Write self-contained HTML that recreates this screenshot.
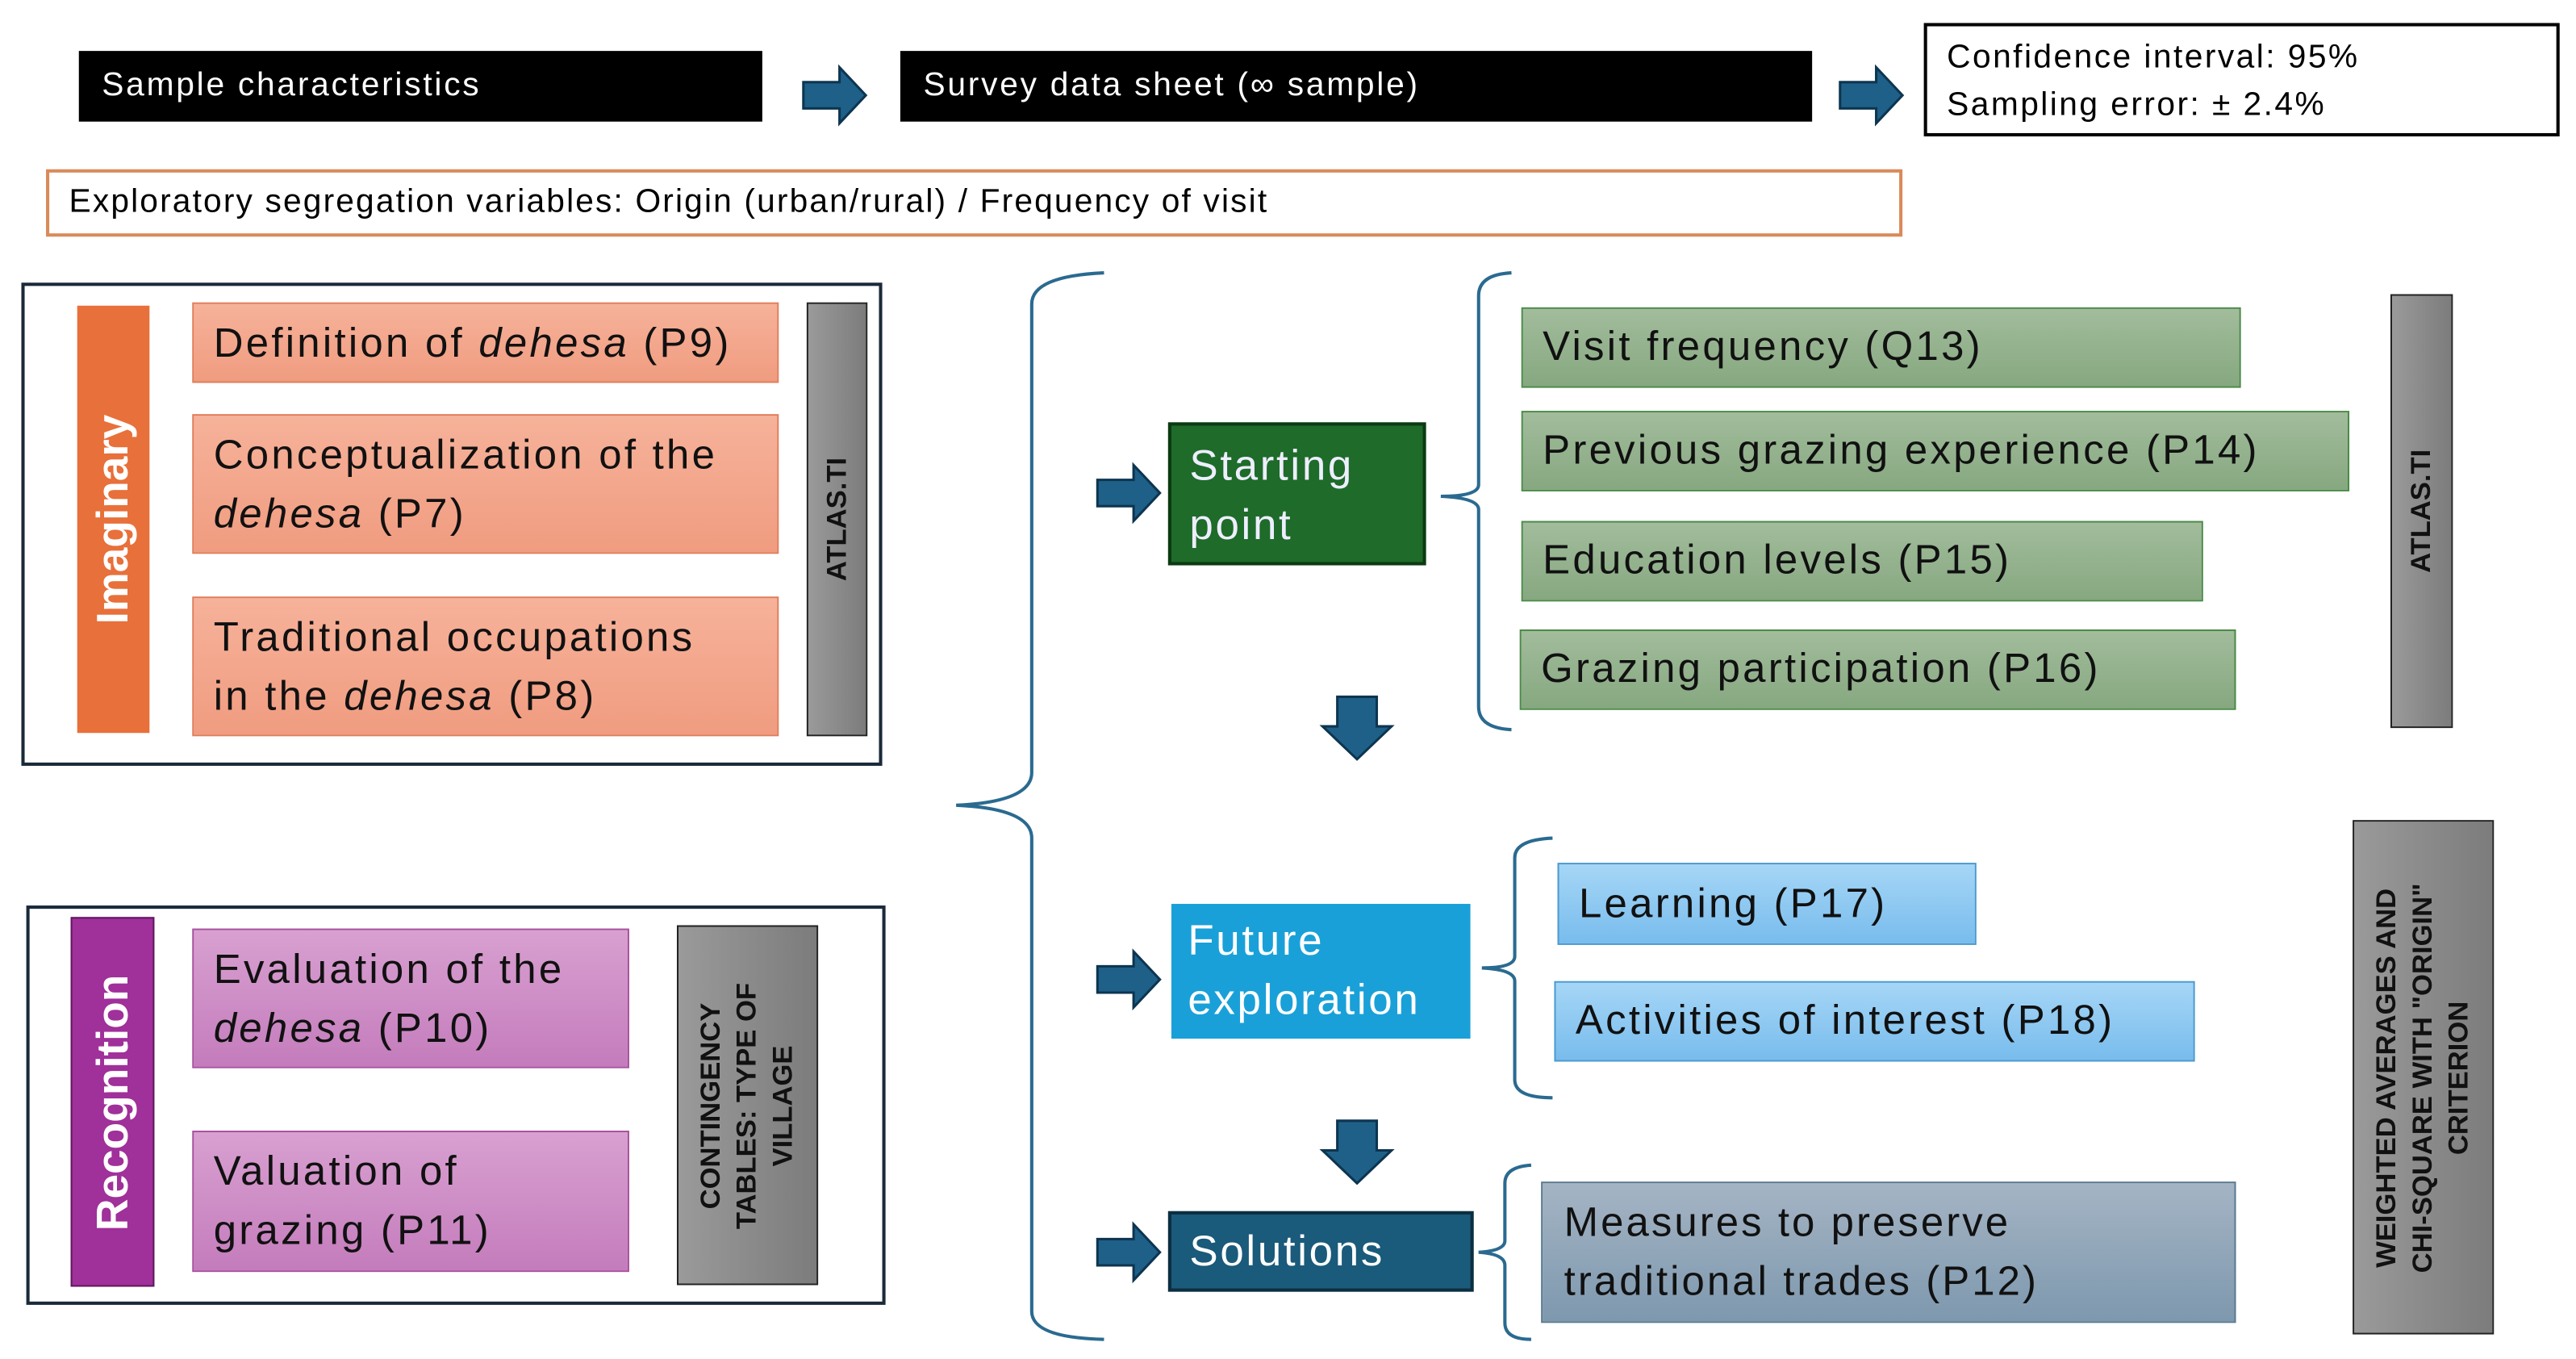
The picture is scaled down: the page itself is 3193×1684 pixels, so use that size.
<!DOCTYPE html>
<html><head><meta charset="utf-8"><style>
html,body{margin:0;padding:0;background:#fff;}
body{width:3193px;height:1684px;overflow:hidden;position:relative;}
#s{position:absolute;left:0;top:0;width:1568px;height:827px;transform:scale(2.0364);transform-origin:0 0;font-family:"Liberation Sans",sans-serif;}
.b{position:absolute;box-sizing:border-box;}
.blk{background:#000;color:#fff;font-size:20px;line-height:43px;padding-left:14px;letter-spacing:1.35px;}
.pk{background:linear-gradient(#f6b29a,#f09c80);border:1.5px solid #e07c58;font-size:25px;color:#111;padding-left:12px;display:flex;align-items:center;line-height:36px;letter-spacing:1.6px;}
.pu{background:linear-gradient(#d8a0d0,#c47cbc);border:1.5px solid #a8509e;font-size:25px;color:#111;padding-left:12px;display:flex;align-items:center;line-height:36px;letter-spacing:1.6px;}
.gr{background:linear-gradient(#a2bc9c,#86a880);border:1.5px solid #4a8a48;font-size:25px;color:#111;padding-left:12px;display:flex;align-items:center;letter-spacing:1.6px;}
.bl{background:linear-gradient(#a6d6f6,#78bced);border:1.5px solid #4a9ad0;font-size:25px;color:#111;padding-left:12px;display:flex;align-items:center;letter-spacing:1.6px;}
.gy{background:linear-gradient(90deg,#9a9a9a,#7c7c7c);border:1.5px solid #222;}
.rot{position:absolute;left:50%;top:50%;transform:translate(-50%,-50%) rotate(-90deg);white-space:nowrap;font-weight:bold;text-align:center;}
</style></head><body><div id="s">
<div class="b blk" style="left:48px;top:31px;width:416px;height:43px;">Sample characteristics</div>
<div class="b blk" style="left:548px;top:31px;width:555px;height:43px;">Survey data sheet (∞ sample)</div>
<div class="b" style="left:1171px;top:14px;width:387px;height:69px;border:2px solid #000;font-size:20px;line-height:29px;padding:5px 0 0 12px;letter-spacing:1.2px;">Confidence interval: 95%<br>Sampling error: ± 2.4%</div>
<div class="b" style="left:28px;top:103px;width:1130px;height:41px;border:2px solid #d98a5a;font-size:20px;line-height:37px;padding-left:12px;letter-spacing:1.05px;">Exploratory segregation variables: Origin (urban/rural) / Frequency of visit</div>

<div class="b" style="left:13px;top:172px;width:524px;height:294px;border:2px solid #1a2a3a;"></div>
<div class="b" style="left:47px;top:186px;width:44px;height:260px;background:#e8703a;"><div class="rot" style="color:#fff;font-size:27px;">Imaginary</div></div>
<div class="b pk" style="left:117px;top:184px;width:357px;height:49px;">Definition of&nbsp;<i>dehesa</i>&nbsp;(P9)</div>
<div class="b pk" style="left:117px;top:252px;width:357px;height:85px;"><div>Conceptualization of the<br><i>dehesa</i> (P7)</div></div>
<div class="b pk" style="left:117px;top:363px;width:357px;height:85px;"><div>Traditional occupations<br>in the <i>dehesa</i> (P8)</div></div>
<div class="b gy" style="left:491px;top:184px;width:37px;height:264px;"><div class="rot" style="font-size:17px;color:#111;">ATLAS.TI</div></div>

<div class="b" style="left:16px;top:551px;width:523px;height:243px;border:2px solid #1a2a3a;"></div>
<div class="b" style="left:43px;top:558px;width:51px;height:225px;background:#a0309a;border:1.5px solid #601860;"><div class="rot" style="color:#fff;font-size:27px;">Recognition</div></div>
<div class="b pu" style="left:117px;top:565px;width:266px;height:85px;"><div>Evaluation of the<br><i>dehesa</i> (P10)</div></div>
<div class="b pu" style="left:117px;top:688px;width:266px;height:86px;"><div>Valuation of<br>grazing (P11)</div></div>
<div class="b gy" style="left:412px;top:563px;width:86px;height:219px;"><div class="rot" style="font-size:17px;color:#111;line-height:22px;">CONTINGENCY<br>TABLES: TYPE OF<br>VILLAGE</div></div>

<div class="b" style="left:711px;top:257px;width:157px;height:87px;background:#1e6b2a;border:2px solid #0c3a12;color:#eef;font-size:26px;line-height:36px;padding:6px 0 0 11px;letter-spacing:1.3px;">Starting<br>point</div>
<div class="b" style="left:713px;top:550px;width:182px;height:82px;background:#1aa0d8;color:#fff;font-size:26px;line-height:36px;padding:4px 0 0 10px;letter-spacing:1.3px;">Future<br>exploration</div>
<div class="b" style="left:711px;top:737px;width:186px;height:49px;background:#1a5a7a;border:2px solid #0c2e40;color:#fff;font-size:26px;line-height:45px;padding-left:11px;letter-spacing:1.3px;">Solutions</div>

<div class="b gr" style="left:926px;top:187px;width:438px;height:49px;">Visit frequency (Q13)</div>
<div class="b gr" style="left:926px;top:250px;width:504px;height:49px;">Previous grazing experience (P14)</div>
<div class="b gr" style="left:926px;top:317px;width:415px;height:49px;">Education levels (P15)</div>
<div class="b gr" style="left:925px;top:383px;width:436px;height:49px;">Grazing participation (P16)</div>
<div class="b gy" style="left:1455px;top:179px;width:38px;height:264px;"><div class="rot" style="font-size:17px;color:#111;">ATLAS.TI</div></div>

<div class="b bl" style="left:948px;top:525px;width:255px;height:50px;">Learning (P17)</div>
<div class="b bl" style="left:946px;top:597px;width:390px;height:49px;">Activities of interest (P18)</div>
<div class="b" style="left:938px;top:719px;width:423px;height:86px;background:linear-gradient(#a4b4c4,#7e98ae);border:1.5px solid #5a7a90;font-size:25px;line-height:36px;padding:6px 0 0 13px;color:#111;letter-spacing:1.5px;">Measures to preserve<br>traditional trades (P12)</div>
<div class="b gy" style="left:1432px;top:499px;width:86px;height:313px;"><div class="rot" style="font-size:17px;color:#111;line-height:22px;">WEIGHTED AVERAGES AND<br>CHI-SQUARE WITH "ORIGIN"<br>CRITERION</div></div>

<svg width="1568" height="827" style="position:absolute;left:0;top:0;" viewBox="0 0 1568 827">
<defs><g id="ar"><path d="M0,-8 H22 V-17 L38,0 L22,17 V8 H0 Z" fill="#1f6088" stroke="#0d3550" stroke-width="1.5"/></g>
<g id="dn"><path d="M-12,0 V18 H-21 L0,38 L21,18 H12 V0 Z" fill="#1f6088" stroke="#0d3550" stroke-width="1.5"/></g></defs>
<use href="#ar" x="489" y="58"/><use href="#ar" x="1120" y="58"/>
<use href="#ar" x="668" y="300"/><use href="#ar" x="668" y="596"/><use href="#ar" x="668" y="762"/>
<use href="#dn" x="826" y="424"/><use href="#dn" x="826" y="682"/>
<g fill="none" stroke="#2a6a90" stroke-width="2">
<path d="M672,166 Q628,168 628,185 V470 Q628,488 582,490 Q628,492 628,510 V798 Q628,814 672,815"/>
<path d="M920,166 Q900,167 900,180 V295 Q900,302 877,302 Q900,303 900,310 V430 Q900,443 920,444"/>
<path d="M945,510 Q922,511 922,522 V582 Q922,589 902,589 Q922,590 922,597 V657 Q922,668 945,668"/>
<path d="M932,709 Q916,710 916,720 V755 Q916,761 900,762 Q916,763 916,770 V805 Q916,815 932,815"/>
</g></svg>
</div></body></html>
